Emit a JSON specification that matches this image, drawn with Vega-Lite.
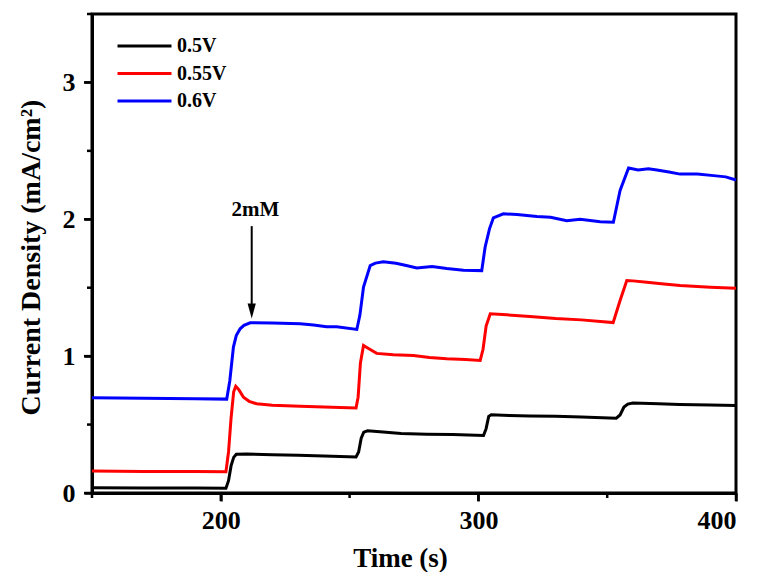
{
  "$schema": "https://vega.github.io/schema/vega-lite/v6.json",
  "autosize": {"type": "none"},
  "width": 644,
  "height": 479,
  "padding": {"left": 92, "top": 14, "right": 24, "bottom": 79},
  "background": "white",
  "config": {
    "view": {"stroke": "black", "strokeWidth": 3},
    "font": "Liberation Serif",
    "axis": {
      "domainColor": "black", "domainWidth": 3,
      "labelFont": "Liberation Serif", "labelFontWeight": "bold", "labelFontSize": 26, "labelColor": "black",
      "titleFont": "Liberation Serif", "titleFontWeight": "bold", "titleColor": "black", "grid": false
    },
    "legend": {"labelFont": "Liberation Serif", "labelFontWeight": "bold", "labelFontSize": 20, "labelColor": "black"}
  },
  "datasets": {
    "curves": [
      {"series": "0.5V", "t": 150, "v": 0.038}, {"series": "0.5V", "t": 170, "v": 0.037}, {"series": "0.5V", "t": 190, "v": 0.036}, {"series": "0.5V", "t": 202, "v": 0.035},
      {"series": "0.5V", "t": 203, "v": 0.09}, {"series": "0.5V", "t": 204, "v": 0.2}, {"series": "0.5V", "t": 205, "v": 0.26}, {"series": "0.5V", "t": 206, "v": 0.283},
      {"series": "0.5V", "t": 210, "v": 0.285}, {"series": "0.5V", "t": 220, "v": 0.28}, {"series": "0.5V", "t": 230, "v": 0.275}, {"series": "0.5V", "t": 240, "v": 0.27},
      {"series": "0.5V", "t": 252.5, "v": 0.263}, {"series": "0.5V", "t": 253.5, "v": 0.3}, {"series": "0.5V", "t": 254.5, "v": 0.4}, {"series": "0.5V", "t": 255.5, "v": 0.445},
      {"series": "0.5V", "t": 257, "v": 0.455}, {"series": "0.5V", "t": 263, "v": 0.445}, {"series": "0.5V", "t": 270, "v": 0.435}, {"series": "0.5V", "t": 280, "v": 0.43},
      {"series": "0.5V", "t": 290, "v": 0.428}, {"series": "0.5V", "t": 302, "v": 0.421}, {"series": "0.5V", "t": 303, "v": 0.47}, {"series": "0.5V", "t": 304, "v": 0.56},
      {"series": "0.5V", "t": 305, "v": 0.572}, {"series": "0.5V", "t": 312, "v": 0.567}, {"series": "0.5V", "t": 320, "v": 0.563}, {"series": "0.5V", "t": 330, "v": 0.56},
      {"series": "0.5V", "t": 340, "v": 0.555}, {"series": "0.5V", "t": 353.5, "v": 0.547}, {"series": "0.5V", "t": 355, "v": 0.57}, {"series": "0.5V", "t": 356.5, "v": 0.628},
      {"series": "0.5V", "t": 358, "v": 0.65}, {"series": "0.5V", "t": 360, "v": 0.658}, {"series": "0.5V", "t": 370, "v": 0.652}, {"series": "0.5V", "t": 378, "v": 0.647},
      {"series": "0.5V", "t": 390, "v": 0.643}, {"series": "0.5V", "t": 400, "v": 0.64},

      {"series": "0.55V", "t": 150, "v": 0.16}, {"series": "0.55V", "t": 170, "v": 0.158}, {"series": "0.55V", "t": 190, "v": 0.157}, {"series": "0.55V", "t": 202, "v": 0.156},
      {"series": "0.55V", "t": 203, "v": 0.3}, {"series": "0.55V", "t": 204, "v": 0.55}, {"series": "0.55V", "t": 205, "v": 0.74}, {"series": "0.55V", "t": 205.8, "v": 0.78},
      {"series": "0.55V", "t": 207, "v": 0.755}, {"series": "0.55V", "t": 208.8, "v": 0.7}, {"series": "0.55V", "t": 211, "v": 0.67}, {"series": "0.55V", "t": 213.9, "v": 0.652},
      {"series": "0.55V", "t": 220, "v": 0.642}, {"series": "0.55V", "t": 230.8, "v": 0.633}, {"series": "0.55V", "t": 240, "v": 0.628}, {"series": "0.55V", "t": 252.5, "v": 0.622},
      {"series": "0.55V", "t": 253.3, "v": 0.7}, {"series": "0.55V", "t": 254.2, "v": 0.95}, {"series": "0.55V", "t": 255.4, "v": 1.078}, {"series": "0.55V", "t": 257, "v": 1.06},
      {"series": "0.55V", "t": 260.5, "v": 1.02}, {"series": "0.55V", "t": 267, "v": 1.01}, {"series": "0.55V", "t": 274.8, "v": 1.005}, {"series": "0.55V", "t": 281, "v": 0.99},
      {"series": "0.55V", "t": 287.7, "v": 0.981}, {"series": "0.55V", "t": 295, "v": 0.975}, {"series": "0.55V", "t": 300.7, "v": 0.969}, {"series": "0.55V", "t": 301.8, "v": 1.05},
      {"series": "0.55V", "t": 303, "v": 1.22}, {"series": "0.55V", "t": 304.6, "v": 1.31}, {"series": "0.55V", "t": 311, "v": 1.302}, {"series": "0.55V", "t": 320, "v": 1.29},
      {"series": "0.55V", "t": 330, "v": 1.275}, {"series": "0.55V", "t": 340, "v": 1.265}, {"series": "0.55V", "t": 352.3, "v": 1.245}, {"series": "0.55V", "t": 355, "v": 1.407},
      {"series": "0.55V", "t": 357.6, "v": 1.553}, {"series": "0.55V", "t": 360, "v": 1.55}, {"series": "0.55V", "t": 365.4, "v": 1.54}, {"series": "0.55V", "t": 372, "v": 1.528},
      {"series": "0.55V", "t": 378.3, "v": 1.516}, {"series": "0.55V", "t": 390, "v": 1.503}, {"series": "0.55V", "t": 400, "v": 1.496},

      {"series": "0.6V", "t": 150, "v": 0.696}, {"series": "0.6V", "t": 170, "v": 0.693}, {"series": "0.6V", "t": 190, "v": 0.689}, {"series": "0.6V", "t": 202.3, "v": 0.686},
      {"series": "0.6V", "t": 203.5, "v": 0.82}, {"series": "0.6V", "t": 204.9, "v": 1.066}, {"series": "0.6V", "t": 206, "v": 1.15}, {"series": "0.6V", "t": 207.5, "v": 1.2},
      {"series": "0.6V", "t": 209, "v": 1.225}, {"series": "0.6V", "t": 211.4, "v": 1.244}, {"series": "0.6V", "t": 220, "v": 1.242}, {"series": "0.6V", "t": 230.8, "v": 1.236},
      {"series": "0.6V", "t": 236, "v": 1.228}, {"series": "0.6V", "t": 241.1, "v": 1.215}, {"series": "0.6V", "t": 245, "v": 1.214}, {"series": "0.6V", "t": 252.8, "v": 1.195},
      {"series": "0.6V", "t": 254, "v": 1.3}, {"series": "0.6V", "t": 255.4, "v": 1.504}, {"series": "0.6V", "t": 258, "v": 1.662}, {"series": "0.6V", "t": 260, "v": 1.68},
      {"series": "0.6V", "t": 263.1, "v": 1.69}, {"series": "0.6V", "t": 268, "v": 1.678}, {"series": "0.6V", "t": 272, "v": 1.662}, {"series": "0.6V", "t": 276.1, "v": 1.645},
      {"series": "0.6V", "t": 282, "v": 1.655}, {"series": "0.6V", "t": 287.7, "v": 1.64}, {"series": "0.6V", "t": 294.2, "v": 1.628}, {"series": "0.6V", "t": 301.3, "v": 1.625},
      {"series": "0.6V", "t": 302.6, "v": 1.796}, {"series": "0.6V", "t": 304.3, "v": 1.93}, {"series": "0.6V", "t": 305.8, "v": 2.01}, {"series": "0.6V", "t": 309.7, "v": 2.04},
      {"series": "0.6V", "t": 315, "v": 2.035}, {"series": "0.6V", "t": 322.7, "v": 2.02}, {"series": "0.6V", "t": 328, "v": 2.015}, {"series": "0.6V", "t": 334.3, "v": 1.99},
      {"series": "0.6V", "t": 339.5, "v": 2.0}, {"series": "0.6V", "t": 347.3, "v": 1.982}, {"series": "0.6V", "t": 352.4, "v": 1.978}, {"series": "0.6V", "t": 355, "v": 2.21},
      {"series": "0.6V", "t": 358.3, "v": 2.375}, {"series": "0.6V", "t": 362, "v": 2.36}, {"series": "0.6V", "t": 366, "v": 2.37}, {"series": "0.6V", "t": 369.3, "v": 2.36},
      {"series": "0.6V", "t": 374, "v": 2.345}, {"series": "0.6V", "t": 378.3, "v": 2.33}, {"series": "0.6V", "t": 385, "v": 2.33}, {"series": "0.6V", "t": 391.3, "v": 2.319},
      {"series": "0.6V", "t": 396, "v": 2.31}, {"series": "0.6V", "t": 400, "v": 2.287}
    ],
    "arrow": [{"t": 212.0, "v1": 1.95, "v2": 1.33, "label": "2mM", "vt": 2.027, "tt": 213.4}],
    "xMajor": [{"t": 200}, {"t": 300}, {"t": 400}],
    "xMinor": [{"t": 150}, {"t": 250}, {"t": 350}],
    "yMajor": [{"v": 0}, {"v": 1}, {"v": 2}, {"v": 3}],
    "yMinor": [{"v": 0.5}, {"v": 1.5}, {"v": 2.5}, {"v": 3.5}]
  },
  "layer": [
    {
      "data": {"name": "curves"},
      "mark": {"type": "line", "strokeWidth": 3, "interpolate": "linear"},
      "encoding": {
        "x": {
          "field": "t", "type": "quantitative",
          "scale": {"domain": [150, 400], "nice": false, "zero": false},
          "axis": {
            "orient": "bottom",
            "values": [200, 300, 400],
            "format": "d",
            "tickSize": 8, "tickColor": "#000000", "tickWidth": 2.5,
            "labelPadding": 6,
            "title": "Time (s)", "titleFontSize": 27, "titleX": 308, "titleY": 73, "titleBaseline": "alphabetic"
          }
        },
        "y": {
          "field": "v", "type": "quantitative",
          "scale": {"domain": [0, 3.5], "nice": false},
          "axis": {
            "orient": "left",
            "values": [0, 1, 2, 3],
            "format": "d",
            "tickSize": 8, "tickColor": "#000000", "tickWidth": 2.5,
            "labelPadding": 9,
            "title": "Current Density (mA/cm²)", "titleFontSize": 28, "titleX": -61, "titleY": 243, "titleBaseline": "middle", "titleAngle": -90
          }
        },
        "color": {
          "field": "series", "type": "nominal",
          "scale": {"domain": ["0.5V", "0.55V", "0.6V"], "range": ["#000000", "#ff0000", "#0000ff"]},
          "legend": {
            "title": null, "orient": "none", "legendX": 37.5, "legendY": 17,
            "symbolType": "M-2,0H2", "symbolSize": 729, "symbolStrokeWidth": 3, "labelOffset": 17.5, "rowPadding": 2.5
          }
        }
      }
    },
    {
      "data": {"name": "xMajor"},
      "mark": {"type": "tick", "orient": "vertical", "size": 8, "thickness": 2.5, "color": "black", "opacity": 1, "yOffset": 4, "clip": false},
      "encoding": {"x": {"field": "t", "type": "quantitative"}, "y": {"datum": 0, "type": "quantitative"}}
    },
    {
      "data": {"name": "xMinor"},
      "mark": {"type": "tick", "orient": "vertical", "size": 5, "thickness": 2.5, "color": "black", "opacity": 1, "yOffset": 2.5, "clip": false},
      "encoding": {"x": {"field": "t", "type": "quantitative"}, "y": {"datum": 0, "type": "quantitative"}}
    },
    {
      "data": {"name": "yMajor"},
      "mark": {"type": "tick", "orient": "horizontal", "size": 8, "thickness": 2.5, "color": "black", "opacity": 1, "xOffset": -4, "clip": false},
      "encoding": {"y": {"field": "v", "type": "quantitative"}, "x": {"datum": 150, "type": "quantitative"}}
    },
    {
      "data": {"name": "yMinor"},
      "mark": {"type": "tick", "orient": "horizontal", "size": 5, "thickness": 2.5, "color": "black", "opacity": 1, "xOffset": -2.5, "clip": false},
      "encoding": {"y": {"field": "v", "type": "quantitative"}, "x": {"datum": 150, "type": "quantitative"}}
    },
    {
      "data": {"name": "arrow"},
      "mark": {"type": "rule", "color": "black", "strokeWidth": 2},
      "encoding": {"x": {"field": "t", "type": "quantitative"}, "y": {"field": "v1", "type": "quantitative"}, "y2": {"field": "v2"}}
    },
    {
      "data": {"name": "arrow"},
      "mark": {"type": "point", "shape": "M-0.55,-1L0.55,-1L0,1Z", "size": 225, "filled": true, "color": "black", "opacity": 1},
      "encoding": {"x": {"field": "t", "type": "quantitative"}, "y": {"field": "v2", "type": "quantitative"}}
    },
    {
      "data": {"name": "arrow"},
      "mark": {"type": "text", "font": "Liberation Serif", "fontWeight": "bold", "fontSize": 21, "align": "center", "baseline": "alphabetic", "color": "black"},
      "encoding": {"x": {"field": "tt", "type": "quantitative"}, "y": {"field": "vt", "type": "quantitative"}, "text": {"field": "label"}}
    }
  ]
}
